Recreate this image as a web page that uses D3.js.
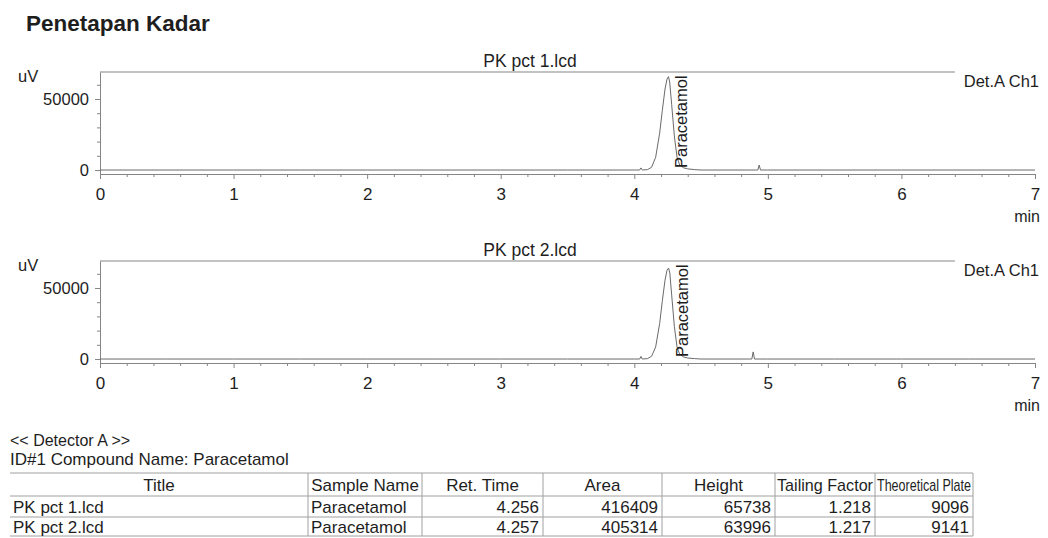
<!DOCTYPE html>
<html><head><meta charset="utf-8">
<script src="https://cdn.jsdelivr.net/npm/d3@7"></script>
<style>
html,body{margin:0;padding:0;background:#fff;}
svg{display:block;font-family:"Liberation Sans",Arial,sans-serif;}
</style></head>
<body><svg id="c" width="1048" height="538"></svg>
<script>
// ---------- data ----------
const pageTitle = "Penetapan Kadar";
const fileNames = ["PK pct 1.lcd", "PK pct 2.lcd"];
const channelLabel = "Det.A Ch1";
const peakName = "Paracetamol";
const peakTimes = [4.256, 4.257];

const trace1Time  = [0, 0.5, 1, 1.5, 2, 2.5, 3, 3.5, 4.0, 4.04, 4.05, 4.06, 4.10, 4.13, 4.16, 4.19, 4.21, 4.23, 4.245, 4.256, 4.265, 4.28, 4.30, 4.32, 4.34, 4.37, 4.40, 4.45, 4.50, 4.91, 4.925, 4.935, 4.945, 5.0, 5.5, 6, 6.5, 7];
const trace1Value = [0, 0, 0, 0, 0, 0, 0, 0, 0, 0, 1500, 0, 300, 2000, 9000, 26000, 42000, 57000, 64000, 65738, 62000, 46000, 24000, 9000, 3500, 1500, 800, 300, 0, 0, 0, 3500, 0, 0, 0, 0, 0, 0];

const trace2Time  = [0, 0.5, 1, 1.5, 2, 2.5, 3, 3.5, 4.0, 4.04, 4.05, 4.06, 4.10, 4.13, 4.16, 4.19, 4.21, 4.23, 4.245, 4.257, 4.266, 4.28, 4.30, 4.32, 4.34, 4.37, 4.40, 4.45, 4.50, 4.86, 4.88, 4.89, 4.90, 5.0, 5.5, 6, 6.5, 7];
const trace2Value = [0, 0, 0, 0, 0, 0, 0, 0, 0, 0, 1800, 0, 300, 2000, 8500, 25000, 41000, 55500, 62500, 63996, 60500, 45000, 23000, 8500, 3300, 1400, 700, 300, 0, 0, 0, 5000, 0, 0, 0, 0, 0, 0];

const xTickValues = [0, 1, 2, 3, 4, 5, 6, 7];
const yTickValues = [0, 50000];
const xUnit = "min";
const yUnit = "uV";

const detectorLabel = "<< Detector A >>";
const compoundLabel = "ID#1 Compound Name: Paracetamol";
const tableHeaders = ["Title", "Sample Name", "Ret. Time", "Area", "Height", "Tailing Factor", "Theoretical Plate"];
const tableTitles = ["PK pct 1.lcd", "PK pct 2.lcd"];
const tableSamples = ["Paracetamol", "Paracetamol"];
const tableRetTimes = ["4.256", "4.257"];
const tableAreas = ["416409", "405314"];
const tableHeights = ["65738", "63996"];
const tableTailing = ["1.218", "1.217"];
const tablePlates = ["9096", "9141"];

// ---------- drawing ----------
const svg = d3.select("#c");
const ink = "#1e1e1e";
const lineCol = "#858585";
const FONT = "Liberation Sans, Arial, sans-serif";

svg.append("text").attr("x", 26).attr("y", 31)
  .attr("font-size", 22.5).attr("font-weight", "bold").attr("fill", ink).text(pageTitle);

const x = d3.scaleLinear().domain([0, 7]).range([100, 1035]);
const traces = [
  trace1Time.map((t, i) => [t, trace1Value[i]]),
  trace2Time.map((t, i) => [t, trace2Value[i]])
];
const panelOffsets = [0, 189];
const yDomain = [-2800, 69000];

panelOffsets.forEach((off, p) => {
  const y = d3.scaleLinear().domain(yDomain).range([174 + off, 72 + off]);
  const g = svg.append("g");

  g.append("text").attr("x", 530).attr("y", y(yDomain[1]) - 5)
    .attr("text-anchor", "middle").attr("font-size", 17.5).attr("fill", ink).text(fileNames[p]);

  g.append("line").attr("x1", x(0)).attr("x2", x(6.4))
    .attr("y1", y(yDomain[1])).attr("y2", y(yDomain[1]))
    .attr("stroke", lineCol).attr("stroke-width", 1.2);

  const minor = d3.range(0, 7.001, 0.2).filter(v => Math.abs(v - Math.round(v)) > 1e-6);
  g.append("g").attr("transform", `translate(0,${y(yDomain[0])})`)
    .call(d3.axisBottom(x).tickValues(minor).tickSize(3).tickSizeOuter(0).tickFormat(""))
    .call(a => a.select(".domain").attr("stroke", lineCol))
    .call(a => a.selectAll(".tick line").attr("stroke", lineCol));
  g.append("g").attr("transform", `translate(0,${y(yDomain[0])})`)
    .call(d3.axisBottom(x).tickValues(xTickValues).tickSize(5).tickPadding(9).tickFormat(d3.format("d")))
    .call(a => a.select(".domain").remove())
    .call(a => a.selectAll(".tick line").attr("stroke", lineCol))
    .call(a => a.selectAll("text").attr("font-size", 17).attr("fill", ink).attr("font-family", FONT));

  const yMinor = d3.range(10000, 69000, 10000).filter(v => v !== 50000);
  g.append("g").attr("transform", `translate(${x(0)},0)`)
    .call(d3.axisLeft(y).tickValues(yMinor).tickSize(3).tickSizeOuter(0).tickFormat(""))
    .call(a => a.select(".domain").attr("stroke", lineCol))
    .call(a => a.selectAll(".tick line").attr("stroke", lineCol));
  g.append("g").attr("transform", `translate(${x(0)},0)`)
    .call(d3.axisLeft(y).tickValues(yTickValues).tickSize(5).tickPadding(6).tickFormat(d3.format("d")))
    .call(a => a.select(".domain").remove())
    .call(a => a.selectAll(".tick line").attr("stroke", lineCol))
    .call(a => a.selectAll("text").attr("font-size", 16.5).attr("fill", ink).attr("font-family", FONT));

  g.append("text").attr("x", 18).attr("y", y(62000)).attr("font-size", 16.5).attr("fill", ink).text(yUnit);
  g.append("text").attr("x", 1040).attr("y", y(yDomain[0]) + 48).attr("text-anchor", "end")
    .attr("font-size", 16).attr("fill", ink).text(xUnit);

  g.append("path").datum(traces[p])
    .attr("d", d3.line().x(d => x(d[0])).y(d => y(d[1])))
    .attr("fill", "none").attr("stroke", "#6a6a6a").attr("stroke-width", 1);

  g.append("text").attr("x", 1039).attr("y", y(yDomain[1]) + 15).attr("text-anchor", "end")
    .attr("font-size", 16.5).attr("fill", ink).text(channelLabel);

  const px = x(peakTimes[p]) + 19;
  g.append("text").attr("transform", `translate(${px},${y(0) - 2}) rotate(-90)`)
    .attr("font-size", 16.5).attr("fill", ink).text(peakName);
});

// ---------- table ----------
svg.append("text").attr("x", 10).attr("y", 446).attr("font-size", 16).attr("fill", ink).text(detectorLabel);
svg.append("text").attr("x", 10).attr("y", 465).attr("font-size", 17).attr("fill", ink).text(compoundLabel);

const colEdges = [10, 308, 422, 543, 662, 775, 875, 973];
const rowEdges = [473, 496, 517, 536];
const colAlign = ["start", "start", "end", "end", "end", "end", "end"];
const rows = tableTitles.map((t, i) => [t, tableSamples[i], tableRetTimes[i], tableAreas[i], tableHeights[i], tableTailing[i], tablePlates[i]]);

const tg = svg.append("g").attr("font-size", 17).attr("fill", ink);
rowEdges.forEach(yy => tg.append("line").attr("x1", colEdges[0]).attr("x2", colEdges[7])
  .attr("y1", yy).attr("y2", yy).attr("stroke", "#a0a0a0").attr("stroke-width", 1));
colEdges.slice(1).forEach(xx => tg.append("line").attr("x1", xx).attr("x2", xx)
  .attr("y1", rowEdges[0]).attr("y2", rowEdges[3]).attr("stroke", "#a0a0a0").attr("stroke-width", 1));

function cellX(c, align) {
  if (align === "middle") return (colEdges[c] + colEdges[c + 1]) / 2;
  if (align === "end") return colEdges[c + 1] - 4;
  return colEdges[c] + 3;
}
function fit(sel, c) {
  const avail = colEdges[c + 1] - colEdges[c] - 4;
  const w = sel.node().getComputedTextLength();
  if (w > avail) sel.attr("textLength", avail).attr("lengthAdjust", "spacingAndGlyphs");
}
tableHeaders.forEach((h, c) => {
  const t = tg.append("text")
    .attr("x", cellX(c, "middle")).attr("y", (rowEdges[0] + rowEdges[1]) / 2 + 6)
    .attr("text-anchor", "middle").text(h);
  fit(t, c);
});
rows.forEach((r, ri) => {
  r.forEach((v, c) => {
    const t = tg.append("text")
      .attr("x", cellX(c, colAlign[c])).attr("y", (rowEdges[ri + 1] + rowEdges[ri + 2]) / 2 + 6)
      .attr("text-anchor", colAlign[c]).text(v);
    fit(t, c);
  });
});
</script>
</body></html>
